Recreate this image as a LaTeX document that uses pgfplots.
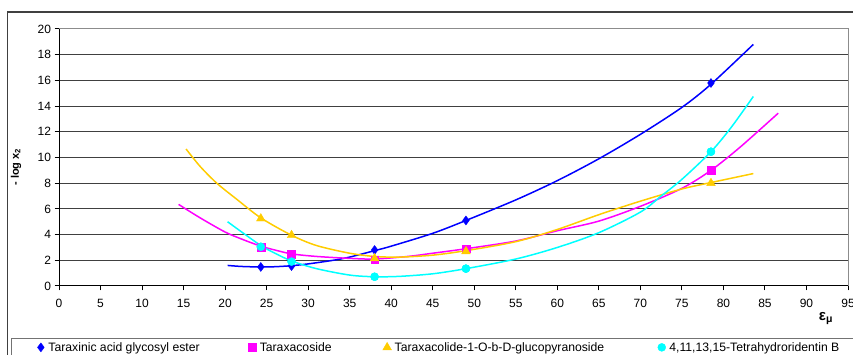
\documentclass[border=0pt]{standalone}
\usepackage{pgfplots}
\pgfplotsset{compat=1.18}
\usepackage{fontspec}
\setmainfont{Liberation Sans}
\definecolor{cblue}{RGB}{0,0,255}
\definecolor{cmag}{RGB}{255,0,255}
\definecolor{cyel}{RGB}{255,204,0}
\definecolor{ccyan}{RGB}{0,255,255}
\pgfplotsset{mk/.style={only marks, legend image code/.code={\path[draw=none,fill=none] (-8pt,-4pt) rectangle (7.6pt,4pt); \draw[##1] plot coordinates {(0pt,0pt)};}}}
\begin{document}
\begin{tikzpicture}[x=1pt,y=1pt,font=\fontsize{12}{14}\selectfont]
\draw[black!75,line width=1.2pt] (7.5,-5) -- (7.5,343) -- (860,343);
\draw[black!55,line width=1pt] (11.7,-5) -- (11.7,16) -- (860,16);
\begin{axis}[at={(59pt,69pt)}, anchor=south west, scale only axis, width=789pt, height=257pt,
  xmin=0,xmax=95,ymin=0,ymax=20,
  xtick={0,5,...,95}, ytick={0,2,...,20},
  axis line style={draw=black!45, line width=1pt},
  ymajorgrids, grid style={black!75, line width=1pt},
  tick align=outside, xtick pos=bottom, ytick pos=left,
  major tick length=4.5pt, tick style={black, line width=1pt},
  ticklabel style={font=\fontsize{12}{14}\selectfont},
  xticklabel style={yshift=-5.5pt},
  /pgf/number format/assume math mode=true,
  ylabel={\textbf{- log x\textsubscript{2}}},
  ylabel style={at={(axis description cs:-0.0545,0.463)}, anchor=center, font=\fontsize{11}{13}\selectfont},
  legend columns=4,
  legend style={draw=none, fill=none, at={(axis description cs:-0.0600,-0.2062)}, anchor=north west,
    inner xsep=21pt, inner ysep=3pt, font=\fontsize{12.2}{14}\selectfont,
    nodes={inner sep=0pt},
    /tikz/column 2/.style={column sep=44.5pt},
    /tikz/column 4/.style={column sep=47.5pt},
    /tikz/column 6/.style={column sep=49.5pt}},
  legend cell align=left,
  after end axis/.code={
    \draw[black,line width=1pt] (rel axis cs:0,1) -- (rel axis cs:0,0) -- (rel axis cs:1,0);
    \node[font=\bfseries\fontsize{15}{17}\selectfont] at (axis description cs:0.972,-0.128) {ε\textsubscript{μ}};
  }
]
% trend curves
\addplot[cblue, line width=1.5pt, smooth, forget plot] coordinates {(20.3,1.6)(22,1.52)(24.3,1.48)(26,1.5)(28,1.58)(30,1.72)(33,2.0)(35,2.25)(38,2.75)(40,3.1)(45,4.1)(49,5.1)(55,6.7)(60,8.2)(65,9.9)(70,11.8)(75,13.9)(78.5,15.7)(83.6,18.8)};
\addplot[cmag, line width=1.5pt, smooth, forget plot] coordinates {(14.4,6.35)(17,5.3)(20,4.2)(22,3.65)(24.3,3.1)(26,2.8)(28,2.5)(31,2.3)(35,2.15)(38,2.1)(42,2.3)(45,2.55)(49,2.9)(55,3.5)(60,4.3)(65,5.05)(70,6.2)(75,7.6)(78.5,9.0)(82,10.8)(86.6,13.45)};
\addplot[cyel, line width=1.5pt, smooth, forget plot] coordinates {(15.3,10.66)(17,9.3)(19,8.0)(21.4,6.75)(24.3,5.3)(28,3.95)(31,3.15)(35,2.55)(38,2.3)(41,2.25)(45,2.4)(49,2.75)(55,3.45)(60,4.4)(65,5.55)(70,6.6)(75,7.55)(78.5,8.05)(83.6,8.75)};
\addplot[ccyan, line width=1.5pt, smooth, forget plot] coordinates {(20.3,5.0)(22,4.2)(24.3,3.15)(26,2.55)(28,1.95)(31,1.35)(35,0.85)(38,0.72)(41,0.75)(45,0.95)(49,1.35)(55,2.1)(60,3.0)(65,4.15)(70,5.75)(72.5,7.0)(75,8.3)(78.5,10.45)(81,12.4)(83.6,14.75)};
% markers
\addplot[ccyan, mk, mark=*, mark size=4pt, forget plot] coordinates {(24.3,3.05)(28,1.9)(38,0.72)(49,1.35)(78.5,10.45)};
\addplot[cblue, mk, mark=diamond*, mark size=4.5pt] coordinates {(24.3,1.48)(28,1.55)(38,2.8)(49,5.1)(78.5,15.8)};
\addplot[cmag, mk, mark=square*, mark size=3.9pt] coordinates {(24.3,3.05)(28,2.5)(38,2.05)(49,2.9)(78.5,9.0)};
\addplot[cyel, mk, mark=triangle*, mark size=5pt] coordinates {(24.3,5.25)(28,3.95)(38,2.15)(49,2.7)(78.5,8.0)};
\addplot[ccyan, mk, mark=*, mark size=4pt] coordinates {(24.3,3.05)(28,1.9)(38,0.72)(49,1.35)(78.5,10.45)};
\legend{Taraxinic acid glycosyl ester, Taraxacoside, Taraxacolide-1-O-b-D-glucopyranoside, {4,11,13,15-Tetrahydroridentin B}}
\end{axis}
\pgfresetboundingbox
\useasboundingbox (0,0) rectangle (853,355);
\end{tikzpicture}
\end{document}
